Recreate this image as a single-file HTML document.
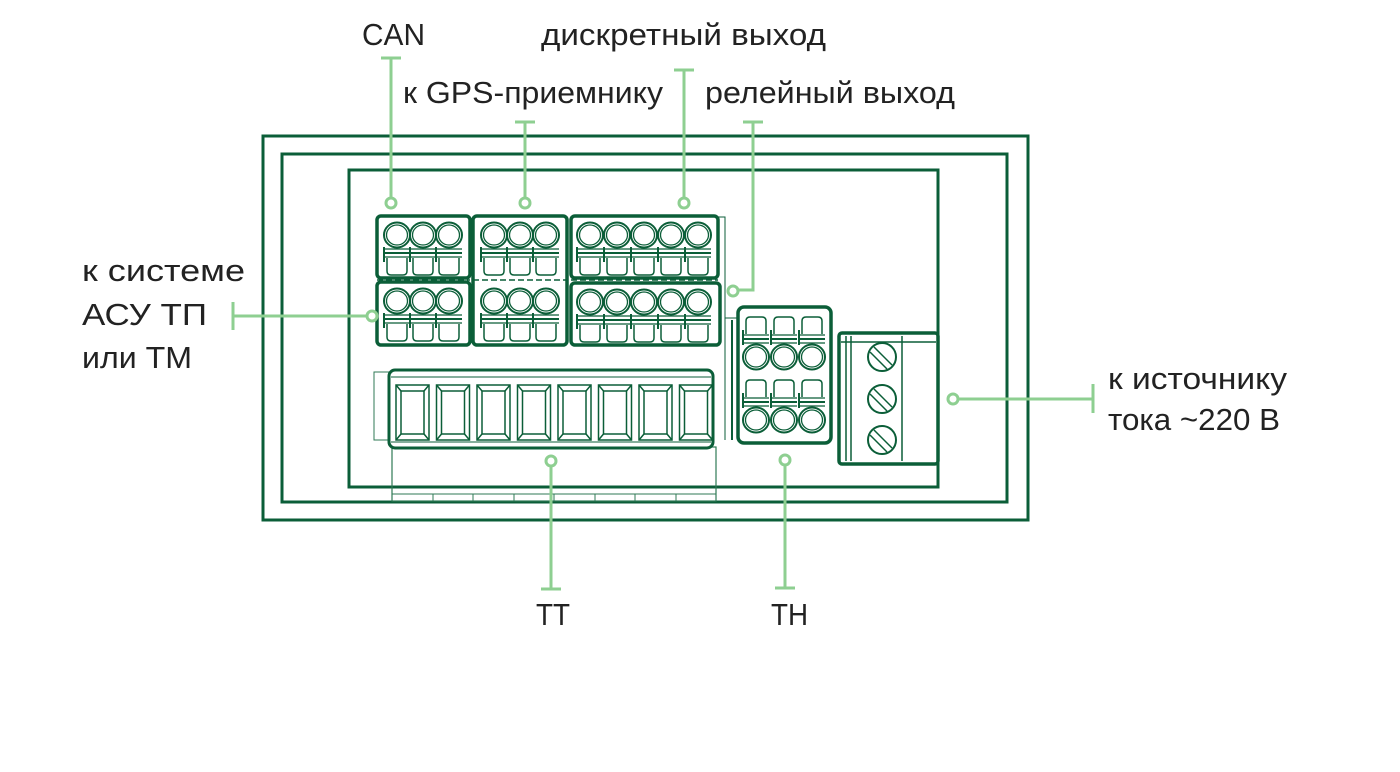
<!DOCTYPE html>
<html><head><meta charset="utf-8"><style>
html,body{margin:0;padding:0;background:#fff;}
svg{display:block;}
text{font-family:"Liberation Sans","Noto Sans CJK SC",sans-serif;font-size:31px;fill:#222;}
</style></head><body>
<svg width="1400" height="772" viewBox="0 0 1400 772" xmlns="http://www.w3.org/2000/svg">
<defs>
<g id="cell" fill="none" stroke="#0b5e38">
  <ellipse cx="0" cy="0" rx="13" ry="12.5" stroke-width="2"/>
  <ellipse cx="0" cy="0" rx="10.5" ry="10" stroke-width="1.3"/>
  <line x1="-13" y1="14" x2="13" y2="14" stroke-width="1.3"/>
  <line x1="-13" y1="18" x2="13" y2="18" stroke-width="2"/>
  <line x1="-13" y1="22" x2="13" y2="22" stroke-width="1.3"/>
  <line x1="-13" y1="12" x2="-13" y2="27" stroke-width="2"/>
  <path d="M-10,23 V36 Q-10,40 -6,40 H6 Q10,40 10,36 V23" stroke-width="1.5"/>
</g>
<g id="ttr" fill="none" stroke="#0b5e38" stroke-width="1.5">
  <rect x="0" y="0" width="33" height="55"/>
  <rect x="5" y="6" width="23" height="43"/>
  <path d="M0,0 L5,6 M33,0 L28,6 M0,55 L5,49 M33,55 L28,49"/>
</g>
</defs>

<g fill="none" stroke="#0b5e38">
  <rect x="263" y="136" width="765" height="384" stroke-width="3"/>
  <rect x="282" y="154" width="725" height="348" stroke-width="3"/>
  <rect x="349" y="170" width="589" height="317" stroke-width="3"/>
</g>

<g fill="#fff" stroke="#0b5e38" stroke-width="3.5">
  <rect x="377" y="216" width="93" height="62" rx="4"/>
  <rect x="377" y="282" width="93" height="63" rx="4"/>
  <rect x="473" y="216" width="94" height="129" rx="4"/>
  <rect x="571" y="216" width="147" height="62" rx="4"/>
  <rect x="571" y="283" width="149" height="62" rx="4"/>
</g>
<line x1="473" y1="280" x2="567" y2="280" stroke="#0b5e38" stroke-width="1.5" stroke-dasharray="6 3"/>
<line x1="377" y1="280" x2="470" y2="280" stroke="#0b5e38" stroke-width="1.5" stroke-dasharray="6 3"/>
<line x1="571" y1="280" x2="718" y2="280" stroke="#0b5e38" stroke-width="1.5" stroke-dasharray="6 3"/>
<path d="M718,217 H725 V440 M725,300 V318 H738" fill="none" stroke="#0b5e38" stroke-width="1"/>
<g>
  <use href="#cell" x="397" y="235"/><use href="#cell" x="423" y="235"/><use href="#cell" x="449" y="235"/>
  <use href="#cell" x="397" y="301"/><use href="#cell" x="423" y="301"/><use href="#cell" x="449" y="301"/>
  <use href="#cell" x="494" y="235"/><use href="#cell" x="520" y="235"/><use href="#cell" x="546" y="235"/>
  <use href="#cell" x="494" y="301"/><use href="#cell" x="520" y="301"/><use href="#cell" x="546" y="301"/>
  <use href="#cell" x="590" y="235"/><use href="#cell" x="617" y="235"/><use href="#cell" x="644" y="235"/><use href="#cell" x="671" y="235"/><use href="#cell" x="698" y="235"/>
  <use href="#cell" x="590" y="302"/><use href="#cell" x="617" y="302"/><use href="#cell" x="644" y="302"/><use href="#cell" x="671" y="302"/><use href="#cell" x="698" y="302"/>
</g>

<rect x="738" y="307" width="93" height="136" rx="6" fill="#fff" stroke="#0b5e38" stroke-width="3.5"/>
<g transform="translate(0,714) scale(1,-1)">
  <use href="#cell" x="756" y="357"/><use href="#cell" x="784" y="357"/><use href="#cell" x="812" y="357"/>
</g>
<g transform="translate(0,840) scale(1,-1)">
  <use href="#cell" x="756" y="420"/><use href="#cell" x="784" y="420"/><use href="#cell" x="812" y="420"/>
</g>
<line x1="732" y1="320" x2="732" y2="440" stroke="#0b5e38" stroke-width="2"/>

<rect x="374" y="372" width="16" height="68" fill="none" stroke="#2f7a55" stroke-width="1"/>
<rect x="392" y="447" width="324" height="54" fill="none" stroke="#2f7a55" stroke-width="1.2"/>
<line x1="392" y1="494" x2="716" y2="494" stroke="#2f7a55" stroke-width="1"/>
<g stroke="#2f7a55" stroke-width="1">
  <line x1="433" y1="494" x2="433" y2="501"/><line x1="473" y1="494" x2="473" y2="501"/><line x1="514" y1="494" x2="514" y2="501"/><line x1="554" y1="494" x2="554" y2="501"/><line x1="595" y1="494" x2="595" y2="501"/><line x1="635" y1="494" x2="635" y2="501"/><line x1="676" y1="494" x2="676" y2="501"/>
</g>
<rect x="389" y="370" width="324" height="78" rx="6" fill="#fff" stroke="#0b5e38" stroke-width="3"/>
<line x1="391" y1="377" x2="711" y2="377" stroke="#0b5e38" stroke-width="1"/>
<line x1="391" y1="442" x2="711" y2="442" stroke="#0b5e38" stroke-width="1"/>
<g>
  <use href="#ttr" x="396" y="385"/><use href="#ttr" x="436.5" y="385"/><use href="#ttr" x="477" y="385"/><use href="#ttr" x="517.5" y="385"/>
  <use href="#ttr" x="558" y="385"/><use href="#ttr" x="598.5" y="385"/><use href="#ttr" x="639" y="385"/><use href="#ttr" x="679.5" y="385"/>
</g>

<rect x="839" y="333" width="99" height="131" rx="3" fill="#fff" stroke="#0b5e38" stroke-width="3.5"/>
<g fill="none" stroke="#0b5e38" stroke-width="1.5">
  <line x1="846" y1="336" x2="846" y2="461"/><line x1="851" y1="336" x2="851" y2="461"/>
  <line x1="902" y1="336" x2="902" y2="461"/>
  <line x1="841" y1="342" x2="936" y2="342"/>
  <circle cx="882" cy="357" r="14" stroke-width="2"/><circle cx="882" cy="399" r="14" stroke-width="2"/><circle cx="882" cy="440" r="14" stroke-width="2"/>
  <path d="M874,347 L892,365 M870,352 L887,369 M874,389 L892,407 M870,394 L887,411 M874,430 L892,448 M870,435 L887,452"/>
</g>

<g fill="none" stroke="#8ecf91" stroke-width="3">
  <path d="M381,58 H401 M391,58 V197"/><circle cx="391" cy="203" r="5" fill="#fff"/>
  <path d="M515,122 H535 M525,122 V197"/><circle cx="525" cy="203" r="5" fill="#fff"/>
  <path d="M674,70 H694 M684,70 V197"/><circle cx="684" cy="203" r="5" fill="#fff"/>
  <path d="M743,122 H763 M753,122 V290 H739"/><circle cx="733" cy="291" r="5" fill="#fff"/>
  <path d="M233,302 V330 M233,316 H366"/><circle cx="372" cy="316" r="5" fill="#fff"/>
  <path d="M551,467 V589 M541,589 H561"/><circle cx="551" cy="461" r="5" fill="#fff"/>
  <path d="M785,466 V588 M775,588 H795"/><circle cx="785" cy="460" r="5" fill="#fff"/>
  <path d="M959,399 H1093 M1093,384 V413"/><circle cx="953" cy="399" r="5" fill="#fff"/>
</g>

<text x="362" y="45" textLength="63" lengthAdjust="spacingAndGlyphs">CAN</text>
<text x="541" y="45" textLength="285" lengthAdjust="spacingAndGlyphs">дискретный выход</text>
<text x="403" y="103" textLength="260" lengthAdjust="spacingAndGlyphs">к GPS-приемнику</text>
<text x="705" y="103" textLength="250" lengthAdjust="spacingAndGlyphs">релейный выход</text>
<text x="82" y="281" textLength="163" lengthAdjust="spacingAndGlyphs">к системе</text>
<text x="82" y="325" textLength="125" lengthAdjust="spacingAndGlyphs">АСУ ТП</text>
<text x="82" y="368" textLength="110" lengthAdjust="spacingAndGlyphs">или ТМ</text>
<text x="1108" y="389" textLength="179" lengthAdjust="spacingAndGlyphs">к источнику</text>
<text x="1108" y="430" textLength="172" lengthAdjust="spacingAndGlyphs">тока ~220 В</text>
<text x="536" y="625" textLength="34" lengthAdjust="spacingAndGlyphs">ТТ</text>
<text x="771" y="625" textLength="37" lengthAdjust="spacingAndGlyphs">ТН</text>
</svg>
</body></html>
